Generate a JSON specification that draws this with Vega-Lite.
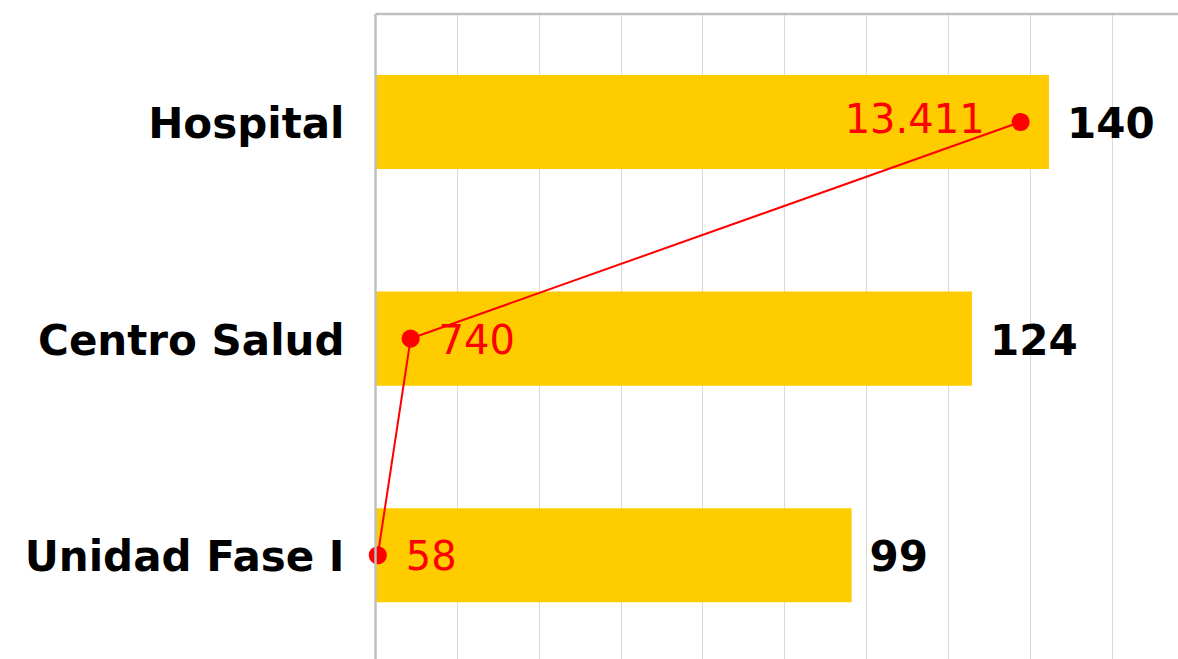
{
  "$schema": "https://vega.github.io/schema/vega-lite/v6.json",
  "autosize": {"type": "none"},
  "padding": {"left": 375, "top": 13.5, "right": 0, "bottom": 0},
  "width": 803,
  "height": 645.5,
  "background": "white",
  "data": {
    "values": [
      {"cat": "Hospital", "bar": 140, "line": 13411, "idx": 1},
      {"cat": "Centro Salud", "bar": 124, "line": 740, "idx": 2},
      {"cat": "Unidad Fase I", "bar": 99, "line": 58, "idx": 3}
    ]
  },
  "encoding": {
    "y": {
      "field": "cat", "type": "nominal", "sort": ["Hospital", "Centro Salud", "Unidad Fase I"],
      "scale": {"type": "band", "paddingInner": 0.566, "paddingOuter": 0.2727, "align": 0.52, "round": false},
      "axis": {
        "title": null, "orient": "left", "domain": true, "domainColor": "#BFBFBF", "domainWidth": 2.5,
        "ticks": false, "tickSize": 0, "labelPadding": 31, "labelFont": "DejaVu Sans", "labelFontSize": 42,
        "labelFontWeight": "bold", "labelColor": "#000000", "labelOffset": 3, "labelLimit": 400, "zindex": 1, "grid": false
      }
    }
  },
  "layer": [
    {
      "encoding": {
        "x": {
          "field": "bar", "type": "quantitative",
          "scale": {"domain": [0, 166.8], "nice": false, "zero": true},
          "axis": {
            "title": null, "orient": "top", "labels": false, "ticks": false, "domain": true,
            "domainColor": "#BFBFBF", "domainWidth": 2.5, "grid": true, "gridColor": "#D9D9D9", "gridWidth": 1,
            "values": [17, 34, 51, 68, 85, 102, 119, 136, 153]
          }
        }
      },
      "layer": [
        {"mark": {"type": "bar", "color": "#FFCC00"}},
        {
          "mark": {"type": "text", "align": "left", "baseline": "middle", "dx": 18, "dy": 3, "font": "DejaVu Sans", "fontSize": 42, "fontWeight": "bold", "color": "#000000"},
          "encoding": {"text": {"field": "bar", "type": "quantitative", "format": "d"}}
        }
      ]
    },
    {
      "encoding": {
        "x": {
          "field": "line", "type": "quantitative",
          "scale": {"domain": [0, 16680], "nice": false, "zero": true},
          "axis": null
        }
      },
      "layer": [
        {
          "mark": {"type": "line", "color": "#FF0000", "strokeWidth": 2},
          "encoding": {"order": {"field": "idx", "type": "quantitative"}}
        },
        {"mark": {"type": "point", "filled": true, "color": "#FF0000", "size": 330, "opacity": 1, "shape": "circle"}},
        {
          "transform": [{"filter": "datum.cat === 'Hospital'"}],
          "mark": {"type": "text", "align": "right", "baseline": "middle", "dx": -36, "dy": -1, "font": "DejaVu Sans", "fontSize": 40, "color": "#FF0000"},
          "encoding": {"text": {"field": "line", "type": "quantitative", "format": ",.0f"}}
        },
        {
          "transform": [{"filter": "datum.cat !== 'Hospital'"}],
          "mark": {"type": "text", "align": "left", "baseline": "middle", "dx": 28, "dy": 3, "font": "DejaVu Sans", "fontSize": 40, "color": "#FF0000"},
          "encoding": {"text": {"field": "line", "type": "quantitative", "format": ",.0f"}}
        }
      ]
    }
  ],
  "resolve": {"scale": {"x": "independent"}},
  "config": {
    "view": {"stroke": null},
    "locale": {"number": {"decimal": ",", "thousands": ".", "grouping": [3], "currency": ["", " €"]}}
  }
}
